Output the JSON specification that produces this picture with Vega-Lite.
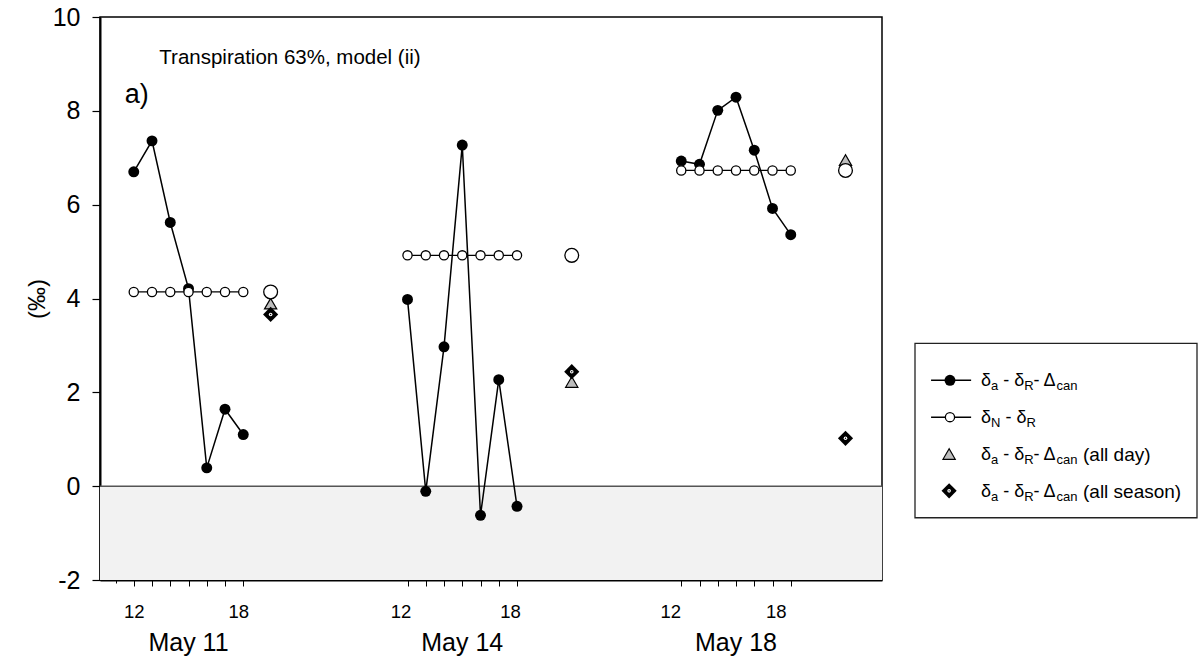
{
  "$schema": "https://vega.github.io/schema/vega-lite/v6.json",
  "background": "white",
  "padding": {"left": 24, "top": 4, "right": 0, "bottom": 0},
  "config": {
    "font": "Liberation Sans",
    "view": {"stroke": null},
    "axis": {"grid": false, "domainColor": "black", "tickColor": "black", "labelColor": "black", "titleColor": "black", "labelFont": "Liberation Sans", "titleFont": "Liberation Sans"}
  },
  "datasets": {
    "hourly": [
      {"day": "May 11", "t": 12, "filled": 6.70, "open": 4.14},
      {"day": "May 11", "t": 13, "filled": 7.36, "open": 4.14},
      {"day": "May 11", "t": 14, "filled": 5.62, "open": 4.14},
      {"day": "May 11", "t": 15, "filled": 4.21, "open": 4.14},
      {"day": "May 11", "t": 16, "filled": 0.39, "open": 4.14},
      {"day": "May 11", "t": 17, "filled": 1.64, "open": 4.14},
      {"day": "May 11", "t": 18, "filled": 1.10, "open": 4.14},
      {"day": "May 14", "t": 27, "filled": 3.98, "open": 4.92},
      {"day": "May 14", "t": 28, "filled": -0.11, "open": 4.92},
      {"day": "May 14", "t": 29, "filled": 2.97, "open": 4.92},
      {"day": "May 14", "t": 30, "filled": 7.27, "open": 4.92},
      {"day": "May 14", "t": 31, "filled": -0.62, "open": 4.92},
      {"day": "May 14", "t": 32, "filled": 2.27, "open": 4.92},
      {"day": "May 14", "t": 33, "filled": -0.43, "open": 4.92},
      {"day": "May 18", "t": 42, "filled": 6.93, "open": 6.73},
      {"day": "May 18", "t": 43, "filled": 6.86, "open": 6.73},
      {"day": "May 18", "t": 44, "filled": 8.01, "open": 6.73},
      {"day": "May 18", "t": 45, "filled": 8.29, "open": 6.73},
      {"day": "May 18", "t": 46, "filled": 7.16, "open": 6.73},
      {"day": "May 18", "t": 47, "filled": 5.92, "open": 6.73},
      {"day": "May 18", "t": 48, "filled": 5.36, "open": 6.73}
    ],
    "summary": [
      {"day": "May 11", "t": 19.5, "mean": 4.14, "allday": 3.89, "allseason": 3.66},
      {"day": "May 14", "t": 36, "mean": 4.92, "allday": 2.22, "allseason": 2.44},
      {"day": "May 18", "t": 51, "mean": 6.73, "allday": 6.95, "allseason": 1.02}
    ],
    "legend": [
      {"slot": 1, "sub1": "a", "sub3": "can", "tail": ""},
      {"slot": 2, "sub1": "N", "sub3": "", "tail": ""},
      {"slot": 3, "sub1": "a", "sub3": "can", "tail": "(all day)"},
      {"slot": 4, "sub1": "a", "sub3": "can", "tail": "(all season)"}
    ]
  },
  "bounds": "flush",
  "spacing": 33,
  "hconcat": [
    {
      "width": 782,
      "height": 563,
      "view": {"stroke": "black", "strokeWidth": 1.5},
      "layer": [
        {
          "data": {"values": [{}]},
          "mark": {"type": "rect", "color": "#f2f2f2"},
          "encoding": {
            "y": {"datum": 0, "type": "quantitative"},
            "y2": {"datum": -2}
          }
        },
        {
          "data": {"values": [{}]},
          "mark": {"type": "rule", "color": "#555555", "strokeWidth": 1.5},
          "encoding": {"y": {"datum": 0, "type": "quantitative"}}
        },
        {
          "data": {"name": "hourly"},
          "mark": {"type": "line", "color": "black", "strokeWidth": 1.5},
          "encoding": {
            "x": {
              "field": "t", "type": "quantitative", "title": null,
              "scale": {"domain": [10.15, 53], "nice": false, "zero": false},
              "axis": {
                "values": [11, 12, 13, 14, 15, 16, 17, 18, 27, 28, 29, 30, 31, 32, 33, 42, 43, 44, 45, 46, 47, 48],
                "tickCount": 60,
                "labelExpr": "indexof([12, 27, 42], datum.value) >= 0 ? '12' : (indexof([18, 33, 48], datum.value) >= 0 ? '18' : '')",
                "labelFontSize": 18.5,
                "labelPadding": 16,
                "labelFlush": false,
                "labelOverlap": false,
                "domainWidth": 2,
                "tickWidth": 1,
                "tickSize": {"condition": {"test": "datum.value == 11", "value": 3}, "value": 6},
                "labelOffset": {
                  "condition": [
                    {"test": "datum.value == 18", "value": -5},
                    {"test": "datum.value == 27 || datum.value == 33", "value": -7},
                    {"test": "datum.value == 42", "value": -11},
                    {"test": "datum.value == 48", "value": -15}
                  ],
                  "value": 0
                }
              }
            },
            "y": {
              "field": "filled", "type": "quantitative", "title": "(‰)",
              "scale": {"domain": [-2, 10], "nice": false, "zero": false},
              "axis": {
                "values": [-2, 0, 2, 4, 6, 8, 10],
                "labelExpr": "'' + datum.value",
                "tickSize": 8,
                "tickWidth": 1.2,
                "domainWidth": 2,
                "labelFontSize": 25,
                "labelPadding": 12,
                "titleFontSize": 24,
                "titleFontWeight": "normal",
                "titlePadding": 3
              }
            },
            "detail": {"field": "day"}
          }
        },
        {
          "data": {"name": "hourly"},
          "mark": {"type": "point", "shape": "circle", "filled": true, "color": "black", "size": 120, "opacity": 1},
          "encoding": {
            "x": {"field": "t", "type": "quantitative", "title": null},
            "y": {"field": "filled", "type": "quantitative", "title": "(‰)"}
          }
        },
        {
          "data": {"name": "hourly"},
          "mark": {"type": "line", "color": "black", "strokeWidth": 1.2},
          "encoding": {
            "x": {"field": "t", "type": "quantitative", "title": null},
            "y": {"field": "open", "type": "quantitative", "title": "(‰)"},
            "detail": {"field": "day"}
          }
        },
        {
          "data": {"name": "hourly"},
          "mark": {"type": "point", "shape": "circle", "filled": true, "fill": "white", "stroke": "black", "strokeWidth": 1.3, "size": 85, "opacity": 1},
          "encoding": {
            "x": {"field": "t", "type": "quantitative", "title": null},
            "y": {"field": "open", "type": "quantitative", "title": "(‰)"}
          }
        },
        {
          "data": {"name": "summary"},
          "mark": {"type": "point", "shape": "triangle-up", "filled": true, "fill": "#bdbdbd", "stroke": "black", "strokeWidth": 1.2, "size": 150, "opacity": 1},
          "encoding": {
            "x": {"field": "t", "type": "quantitative", "title": null},
            "y": {"field": "allday", "type": "quantitative", "title": "(‰)"}
          }
        },
        {
          "data": {"name": "summary"},
          "mark": {"type": "point", "shape": "diamond", "filled": true, "color": "black", "size": 230, "opacity": 1},
          "encoding": {
            "x": {"field": "t", "type": "quantitative", "title": null},
            "y": {"field": "allseason", "type": "quantitative", "title": "(‰)"}
          }
        },
        {
          "data": {"name": "summary"},
          "mark": {"type": "point", "shape": "circle", "filled": true, "color": "white", "size": 13, "opacity": 1},
          "encoding": {
            "x": {"field": "t", "type": "quantitative", "title": null},
            "y": {"field": "allseason", "type": "quantitative", "title": "(‰)"}
          }
        },
        {
          "data": {"name": "summary"},
          "mark": {"type": "point", "shape": "circle", "filled": true, "color": "black", "size": 2, "opacity": 1},
          "encoding": {
            "x": {"field": "t", "type": "quantitative", "title": null},
            "y": {"field": "allseason", "type": "quantitative", "title": "(‰)"}
          }
        },
        {
          "data": {"name": "summary"},
          "mark": {"type": "point", "shape": "circle", "filled": true, "fill": "white", "stroke": "black", "strokeWidth": 1.3, "size": 190, "opacity": 1},
          "encoding": {
            "x": {"field": "t", "type": "quantitative", "title": null},
            "y": {"field": "mean", "type": "quantitative", "title": "(‰)"}
          }
        },
        {
          "data": {"values": [{"note": "Transpiration 63%, model (ii)"}]},
          "mark": {"type": "text", "align": "left", "baseline": "alphabetic", "fontSize": 20.5, "color": "black"},
          "encoding": {
            "x": {"datum": 13.4, "type": "quantitative"},
            "y": {"datum": 9.0, "type": "quantitative"},
            "text": {"field": "note"}
          }
        },
        {
          "data": {"values": [{"note": "a)"}]},
          "mark": {"type": "text", "align": "left", "baseline": "alphabetic", "fontSize": 27, "color": "black"},
          "encoding": {
            "x": {"datum": 11.5, "type": "quantitative"},
            "y": {"datum": 8.17, "type": "quantitative"},
            "text": {"field": "note"}
          }
        },
        {
          "data": {"name": "hourly"},
          "transform": [{"aggregate": [{"op": "mean", "field": "t", "as": "center"}], "groupby": ["day"]}],
          "mark": {"type": "text", "align": "center", "baseline": "alphabetic", "fontSize": 25, "dy": 71, "color": "black"},
          "encoding": {
            "x": {"field": "center", "type": "quantitative", "title": null},
            "y": {"datum": -2, "type": "quantitative"},
            "text": {"field": "day"}
          }
        }
      ]
    },
    {
      "width": 282,
      "height": 563,
      "view": {"stroke": null},
      "layer": [
        {
          "data": {"values": [{}]},
          "mark": {"type": "rect", "fill": "white", "stroke": "#222222", "strokeWidth": 1.3},
          "encoding": {
            "x": {"datum": 0, "type": "quantitative", "scale": {"domain": [0, 1], "nice": false, "zero": false}, "axis": null},
            "x2": {"datum": 1},
            "y": {"datum": 0, "type": "quantitative", "scale": {"domain": [-8.86, 6.42], "reverse": true, "nice": false, "zero": false}, "axis": null},
            "y2": {"datum": 4.73}
          }
        },
        {
          "data": {"name": "legend"},
          "transform": [{"filter": "datum.slot <= 2"}],
          "mark": {"type": "rule", "color": "black", "strokeWidth": 1.5},
          "encoding": {
            "x": {"datum": 0.057, "type": "quantitative"},
            "x2": {"datum": 0.199},
            "y": {"field": "slot", "type": "quantitative"}
          }
        },
        {
          "data": {"name": "legend"},
          "transform": [{"filter": "datum.slot == 1"}],
          "mark": {"type": "point", "shape": "circle", "filled": true, "color": "black", "size": 120, "opacity": 1},
          "encoding": {"x": {"datum": 0.124, "type": "quantitative"}, "y": {"field": "slot", "type": "quantitative"}}
        },
        {
          "data": {"name": "legend"},
          "transform": [{"filter": "datum.slot == 2"}],
          "mark": {"type": "point", "shape": "circle", "filled": true, "fill": "white", "stroke": "black", "strokeWidth": 1.3, "size": 85, "opacity": 1},
          "encoding": {"x": {"datum": 0.124, "type": "quantitative"}, "y": {"field": "slot", "type": "quantitative"}}
        },
        {
          "data": {"name": "legend"},
          "transform": [{"filter": "datum.slot == 3"}],
          "mark": {"type": "point", "shape": "triangle-up", "filled": true, "fill": "#bdbdbd", "stroke": "black", "strokeWidth": 1.2, "size": 150, "opacity": 1},
          "encoding": {"x": {"datum": 0.121, "type": "quantitative"}, "y": {"field": "slot", "type": "quantitative"}}
        },
        {
          "data": {"name": "legend"},
          "transform": [{"filter": "datum.slot == 4"}],
          "mark": {"type": "point", "shape": "diamond", "filled": true, "color": "black", "size": 230, "opacity": 1},
          "encoding": {"x": {"datum": 0.121, "type": "quantitative"}, "y": {"field": "slot", "type": "quantitative"}}
        },
        {
          "data": {"name": "legend"},
          "transform": [{"filter": "datum.slot == 4"}],
          "mark": {"type": "point", "shape": "circle", "filled": true, "color": "white", "size": 13, "opacity": 1},
          "encoding": {"x": {"datum": 0.121, "type": "quantitative"}, "y": {"field": "slot", "type": "quantitative"}}
        },
        {
          "data": {"name": "legend"},
          "transform": [{"filter": "datum.slot == 4"}],
          "mark": {"type": "point", "shape": "circle", "filled": true, "color": "black", "size": 2, "opacity": 1},
          "encoding": {"x": {"datum": 0.121, "type": "quantitative"}, "y": {"field": "slot", "type": "quantitative"}}
        },
        {
          "data": {"name": "legend"},
          "mark": {"type": "text", "text": "δ", "align": "left", "baseline": "alphabetic", "fontSize": 18, "dy": 6, "color": "black"},
          "encoding": {"x": {"datum": 0.234, "type": "quantitative"}, "y": {"field": "slot", "type": "quantitative"}}
        },
        {
          "data": {"name": "legend"},
          "mark": {"type": "text", "align": "left", "baseline": "alphabetic", "fontSize": 13, "dx": 10, "dy": 10, "color": "black"},
          "encoding": {"x": {"datum": 0.234, "type": "quantitative"}, "y": {"field": "slot", "type": "quantitative"}, "text": {"field": "sub1"}}
        },
        {
          "data": {"name": "legend"},
          "transform": [{"filter": "datum.slot != 2"}],
          "mark": {"type": "text", "text": "- δ", "align": "left", "baseline": "alphabetic", "fontSize": 18, "dx": 22.2, "dy": 6, "color": "black"},
          "encoding": {"x": {"datum": 0.234, "type": "quantitative"}, "y": {"field": "slot", "type": "quantitative"}}
        },
        {
          "data": {"name": "legend"},
          "transform": [{"filter": "datum.slot == 2"}],
          "mark": {"type": "text", "text": "- δ", "align": "left", "baseline": "alphabetic", "fontSize": 18, "dx": 24.4, "dy": 6, "color": "black"},
          "encoding": {"x": {"datum": 0.234, "type": "quantitative"}, "y": {"field": "slot", "type": "quantitative"}}
        },
        {
          "data": {"name": "legend"},
          "transform": [{"filter": "datum.slot != 2"}],
          "mark": {"type": "text", "text": "R", "align": "left", "baseline": "alphabetic", "fontSize": 13, "dx": 43.2, "dy": 10, "color": "black"},
          "encoding": {"x": {"datum": 0.234, "type": "quantitative"}, "y": {"field": "slot", "type": "quantitative"}}
        },
        {
          "data": {"name": "legend"},
          "transform": [{"filter": "datum.slot == 2"}],
          "mark": {"type": "text", "text": "R", "align": "left", "baseline": "alphabetic", "fontSize": 13, "dx": 45.4, "dy": 10, "color": "black"},
          "encoding": {"x": {"datum": 0.234, "type": "quantitative"}, "y": {"field": "slot", "type": "quantitative"}}
        },
        {
          "data": {"name": "legend"},
          "transform": [{"filter": "datum.slot != 2"}],
          "mark": {"type": "text", "text": "- Δ", "align": "left", "baseline": "alphabetic", "fontSize": 18, "dx": 52.6, "dy": 6, "color": "black"},
          "encoding": {"x": {"datum": 0.234, "type": "quantitative"}, "y": {"field": "slot", "type": "quantitative"}}
        },
        {
          "data": {"name": "legend"},
          "mark": {"type": "text", "align": "left", "baseline": "alphabetic", "fontSize": 13, "dx": 75.6, "dy": 10, "color": "black"},
          "encoding": {"x": {"datum": 0.234, "type": "quantitative"}, "y": {"field": "slot", "type": "quantitative"}, "text": {"field": "sub3"}}
        },
        {
          "data": {"name": "legend"},
          "mark": {"type": "text", "align": "left", "baseline": "alphabetic", "fontSize": 19, "dx": 102, "dy": 7, "color": "black"},
          "encoding": {"x": {"datum": 0.234, "type": "quantitative"}, "y": {"field": "slot", "type": "quantitative"}, "text": {"field": "tail"}}
        }
      ]
    }
  ]
}
